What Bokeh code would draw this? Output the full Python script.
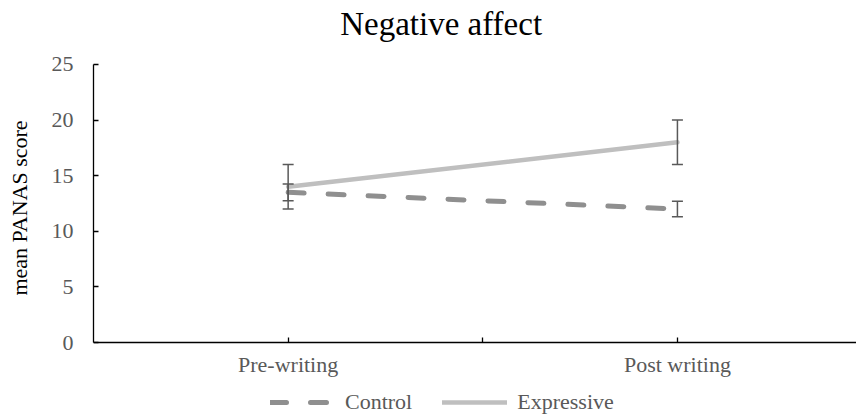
from bokeh.plotting import figure
from bokeh.models import (Range1d, FixedTicker, Whisker, TeeHead, ColumnDataSource,
                          Legend, LegendItem, Label)
from bokeh.embed import file_html
from bokeh.resources import INLINE

# ---- data ----
title_text = "Negative affect"
categories = ["Pre-writing", "Post writing"]
control_mean = [13.5, 12.0]
control_err = [0.75, 0.7]
expressive_mean = [14.0, 18.0]
expressive_err = [2.0, 2.0]
y_ticks = [0, 5, 10, 15, 20, 25]

FONT = "Liberation Serif"
xs = list(range(len(categories)))

# frame spans the whole height; the axis is drawn at y=0 and bounded to 0..25
p = figure(width=856, height=415, output_backend="svg", toolbar_location=None,
           x_range=Range1d(-0.5, 1.46), y_range=Range1d(-6.56, 30.75),
           min_border_left=93, min_border_right=0, min_border_top=0,
           min_border_bottom=0)
p.outline_line_color = None
p.xgrid.grid_line_color = None
p.ygrid.grid_line_color = None
p.background_fill_color = "white"

p.add_layout(Label(x=0.393, y=28.6, text=title_text, text_align="center",
                   text_baseline="alphabetic", text_font=FONT,
                   text_font_size="33px", text_color="black"))

# error bars
for means, errs in [(expressive_mean, expressive_err), (control_mean, control_err)]:
    src = ColumnDataSource(dict(x=xs,
                                lo=[m - e for m, e in zip(means, errs)],
                                hi=[m + e for m, e in zip(means, errs)]))
    w = Whisker(base="x", lower="lo", upper="hi", source=src,
                line_color="#595959", line_width=1.5, level="glyph",
                lower_head=TeeHead(size=11, line_color="#595959", line_width=1.5),
                upper_head=TeeHead(size=11, line_color="#595959", line_width=1.5))
    p.add_layout(w)

r_ctrl = p.line(xs, control_mean, line_color="#8f8f8f", line_width=5,
                line_dash="16 24", line_cap="round")
r_expr = p.line(xs, expressive_mean, line_color="#bfbfbf", line_width=4.5,
                line_cap="round")

# axes
p.xaxis.fixed_location = 0
p.xaxis.ticker = FixedTicker(ticks=[0, 0.5, 1])
p.xaxis.major_label_overrides = {0: categories[0], 0.5: "", 1: categories[1]}
p.yaxis.ticker = FixedTicker(ticks=y_ticks)
p.yaxis.bounds = (0, 25)
p.yaxis.minor_tick_line_color = None
p.xaxis.minor_tick_line_color = None
for ax in (p.xaxis, p.yaxis):
    ax.axis_line_color = "black"
    ax.axis_line_width = 1.3
    ax.major_tick_line_color = "black"
    ax.major_tick_line_width = 1.3
    ax.major_tick_in = 5
    ax.major_tick_out = 0
    ax.major_label_text_font = FONT
    ax.major_label_text_font_size = "22px"
    ax.major_label_text_color = "#595959"
p.xaxis.major_label_standoff = 9
p.yaxis.major_label_standoff = 20
p.yaxis.axis_label = "mean PANAS score"
p.yaxis.axis_label_text_font = FONT
p.yaxis.axis_label_text_font_size = "22px"
p.yaxis.axis_label_text_font_style = "normal"
p.yaxis.axis_label_text_color = "black"
p.yaxis.axis_label_standoff = 17

legend = Legend(items=[LegendItem(label="Control", renderers=[r_ctrl]),
                       LegendItem(label="Expressive", renderers=[r_expr])],
                orientation="horizontal", location=(177, 0),
                label_text_font=FONT, label_text_font_size="22px",
                label_text_color="#595959", glyph_width=65, glyph_height=16,
                label_height=16, label_standoff=10, spacing=30,
                padding=0, margin=0, border_line_color=None,
                background_fill_alpha=0)
p.add_layout(legend, "center")

open("out.html", "w").write(file_html(p, INLINE))
